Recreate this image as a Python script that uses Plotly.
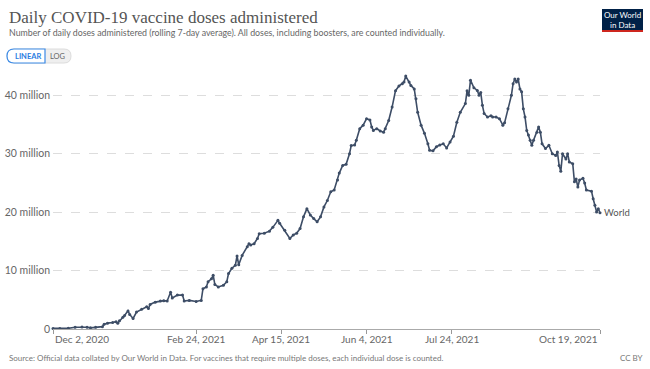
import plotly.graph_objects as go
import pandas as pd

# ---------------- data ----------------
START_DATE = "2020-12-02"
day_offsets = [
    0, 4, 9, 13, 17, 20, 22, 25, 29, 30, 32, 35, 37, 38, 39, 41, 42, 44, 45, 47,
    49, 52, 55, 56, 57, 60, 63, 65, 67, 69, 70, 73, 76, 77, 80, 84, 87, 88, 90, 91,
    93, 94, 95, 97, 100, 102, 103, 105, 107, 108, 109, 111, 114, 115, 116, 118, 120, 121, 124, 127,
    129, 132, 133, 136, 139, 141, 143, 145, 147, 149, 151, 153, 155, 157, 159, 161, 163, 165, 167, 168,
    170, 172, 174, 175, 177, 178, 180, 182, 184, 186, 187, 188, 190, 192, 194, 195, 197, 199, 201, 203,
    205, 206, 207, 209, 210, 212, 213, 214, 216, 218, 220, 221, 223, 225, 227, 229, 231, 233, 235, 237,
    239, 242, 243, 244, 245, 247, 249, 250, 251, 252, 253, 255, 257, 258, 260, 262, 264, 265, 267, 269,
    270, 271, 272, 273, 274, 275, 276, 277, 278, 279, 280, 281, 282, 284, 285, 286, 287, 289, 291, 293,
    295, 296, 297, 298, 299, 301, 302, 303, 305, 306, 307, 308, 309, 311, 312, 313, 316, 317, 318, 319,
    320, 321,
]
doses_millions = [
    0.1, 0.1, 0.12, 0.3, 0.35, 0.3, 0.2, 0.3, 0.4, 0.8, 1.0, 1.1, 1.25, 1.0, 1.4, 2.0, 2.3, 3.1, 2.5, 1.8,
    2.9, 3.4, 3.8, 3.5, 4.2, 4.6, 4.8, 4.85, 4.8, 6.3, 5.3, 5.8, 5.8, 4.8, 4.9, 4.7, 4.9, 6.9, 7.2, 8.1,
    8.6, 9.2, 7.6, 7.2, 7.5, 8.1, 9.5, 10.4, 10.9, 12.5, 11.0, 12.6, 14.1, 14.6, 14.4, 14.6, 15.5, 16.3, 16.4, 16.75,
    17.4, 18.6, 18.1, 16.9, 15.5, 16.1, 16.4, 17.2, 19.2, 20.6, 19.5, 18.9, 18.35, 19.2, 20.9, 22.0, 23.5, 23.8, 25.5, 26.7,
    28.0, 28.2, 30.0, 31.4, 31.5, 32.3, 34.3, 34.9, 36.0, 35.8, 34.6, 34.0, 34.3, 33.9, 33.7, 34.3, 35.7, 38.0, 40.8, 41.6,
    42.0, 42.3, 43.3, 42.3, 41.7, 41.1, 39.4, 37.1, 34.9, 33.5, 31.7, 30.6, 30.5, 31.2, 31.5, 31.7, 31.0, 32.0, 33.0, 35.4,
    37.1, 38.6, 40.8, 40.0, 42.6, 41.3, 40.85, 40.0, 40.5, 38.3, 36.9, 36.3, 36.5, 36.3, 36.3, 36.0, 34.9, 35.3, 37.7, 40.0,
    42.0, 42.8, 42.3, 42.8, 41.1, 40.6, 37.7, 36.3, 34.0, 33.2, 32.3, 31.45, 32.3, 33.7, 34.6, 33.7, 31.7, 30.9, 31.45, 30.0,
    29.7, 30.3, 28.0, 27.0, 30.0, 29.1, 30.0, 28.6, 28.3, 25.2, 25.7, 24.3, 25.5, 25.8, 25.0, 23.8, 23.6, 22.3, 21.2, 20.05,
    20.6, 19.9,
]
series_name = "World"

tick_dates = ["2020-12-02", "2021-02-24", "2021-04-15", "2021-06-04", "2021-07-24", "2021-10-19"]
tick_labels = ["Dec 2, 2020", "Feb 24, 2021", "Apr 15, 2021", "Jun 4, 2021", "Jul 24, 2021", "Oct 19, 2021"]
y_tick_values = [0, 10, 20, 30, 40]
y_tick_labels = ["0", "10 million", "20 million", "30 million", "40 million"]

# ---------------- layout geometry ----------------
W, H = 650, 369
ML, MR, MT, MB = 53, 50, 72, 40
PW, PH = W - ML - MR, H - MT - MB


def px(x):
    return (x - ML) / PW


def py(y):
    return (H - MB - y) / PH


dates = pd.to_datetime(START_DATE) + pd.to_timedelta(day_offsets, unit="D")
values = [v * 1e6 for v in doses_millions]

LINE = "#3d4d66"
GREY = "#666666"

fig = go.Figure()
fig.add_trace(go.Scatter(
    x=dates, y=values, mode="lines+markers", name=series_name,
    line=dict(color=LINE, width=1.6),
    marker=dict(color=LINE, size=3),
    cliponaxis=False, showlegend=False,
))

annotations = []
# x tick labels
for i, (d, lab) in enumerate(zip(tick_dates, tick_labels)):
    anchor = "left" if i == 0 else ("right" if i == len(tick_dates) - 1 else "center")
    annotations.append(dict(x=d, y=py(339), xref="x", yref="paper", text=lab,
                            showarrow=False, xanchor=anchor, yanchor="middle",
                            font=dict(family="Lato", size=10, color=GREY)))
# series label
annotations.append(dict(x=dates[-1], y=values[-1], xref="x", yref="y", text=series_name,
                        showarrow=False, xanchor="left", yanchor="middle", xshift=2,
                        font=dict(family="Lato", size=9.5, color="#555")))
# title & subtitle
annotations.append(dict(x=px(7), y=py(17), xref="paper", yref="paper",
                        text="Daily COVID-19 vaccine doses administered", showarrow=False,
                        xanchor="left", yanchor="middle",
                        font=dict(family="Liberation Serif", size=17, color="#555")))
annotations.append(dict(x=px(7), y=py(32), xref="paper", yref="paper",
                        text="Number of daily doses administered (rolling 7-day average). All doses, including boosters, are counted individually.",
                        showarrow=False, xanchor="left", yanchor="middle",
                        font=dict(family="Lato", size=8.8, color="#666")))
# source & licence
annotations.append(dict(x=px(7), y=py(358), xref="paper", yref="paper",
                        text="Source: Official data collated by Our World in Data. For vaccines that require multiple doses, each individual dose is counted.",
                        showarrow=False, xanchor="left", yanchor="middle",
                        font=dict(family="Lato", size=8, color="#777")))
annotations.append(dict(x=px(645), y=py(358), xref="paper", yref="paper", text="CC BY",
                        showarrow=False, xanchor="right", yanchor="middle",
                        font=dict(family="Lato", size=8, color="#777")))
# logo text
annotations.append(dict(x=px(622.5), y=py(19.5), xref="paper", yref="paper",
                        text="Our World<br>in Data", showarrow=False, xanchor="center", yanchor="middle",
                        font=dict(family="Lato", size=8, color="white")))
# linear / log toggle
annotations.append(dict(x=px(27.5), y=py(56), xref="paper", yref="paper", text="<b>LINEAR</b>",
                        showarrow=False, xanchor="center", yanchor="middle",
                        font=dict(family="Lato", size=7.5, color="#2a7de1")))
annotations.append(dict(x=px(57.5), y=py(56), xref="paper", yref="paper", text="LOG",
                        showarrow=False, xanchor="center", yanchor="middle",
                        font=dict(family="Lato", size=7.5, color="#666")))

shapes = [
    # logo
    dict(type="rect", xref="paper", yref="paper", x0=px(602), x1=px(643), y0=py(30), y1=py(9),
         fillcolor="#002147", line=dict(width=0), layer="below"),
    dict(type="rect", xref="paper", yref="paper", x0=px(602), x1=px(643), y0=py(32), y1=py(30),
         fillcolor="#ce261e", line=dict(width=0), layer="below"),
    # toggle pill background
    dict(type="path", xref="paper", yref="paper",
         path=(f"M {px(14)},{py(49)} L {px(64)},{py(49)} Q {px(71)},{py(49)} {px(71)},{py(56)} "
               f"Q {px(71)},{py(63)} {px(64)},{py(63)} L {px(14)},{py(63)} "
               f"Q {px(7)},{py(63)} {px(7)},{py(56)} Q {px(7)},{py(49)} {px(14)},{py(49)} Z"),
         fillcolor="#efefef", line=dict(color="#dcdcdc", width=1), layer="below"),
    # LINEAR active part
    dict(type="path", xref="paper", yref="paper",
         path=(f"M {px(14)},{py(49)} L {px(45)},{py(49)} L {px(45)},{py(63)} L {px(14)},{py(63)} "
               f"Q {px(7)},{py(63)} {px(7)},{py(56)} Q {px(7)},{py(49)} {px(14)},{py(49)} Z"),
         fillcolor="#ffffff", line=dict(color="#3b8ae6", width=1.2), layer="below"),
]

fig.update_layout(
    template="none",
    width=W, height=H,
    margin=dict(l=ML, r=MR, t=MT, b=MB, autoexpand=False),
    paper_bgcolor="white", plot_bgcolor="white",
    annotations=annotations, shapes=shapes,
    xaxis=dict(
        range=[dates[0], dates[-1]], type="date", automargin=False,
        tickvals=tick_dates, ticktext=tick_labels, showticklabels=False,
        ticks="outside", ticklen=4, tickcolor="#999", showgrid=False,
        showline=True, linecolor="#aaa", linewidth=1, zeroline=False,
    ),
    yaxis=dict(
        range=[0, 44e6], tickvals=[v * 1e6 for v in y_tick_values], ticktext=y_tick_labels,
        tickfont=dict(family="Lato", size=10.5, color=GREY), automargin=False,
        showgrid=True, gridcolor="#dddddd", griddash="dash", gridwidth=1,
        zeroline=False, showline=False, ticks="", ticklabelstandoff=2,
    ),
    font=dict(family="Lato"),
    hovermode=False,
)

fig.write_html("out.html", config={"displayModeBar": False, "staticPlot": True},
               post_script="document.body.style.margin='0';document.body.style.overflow='hidden';")
